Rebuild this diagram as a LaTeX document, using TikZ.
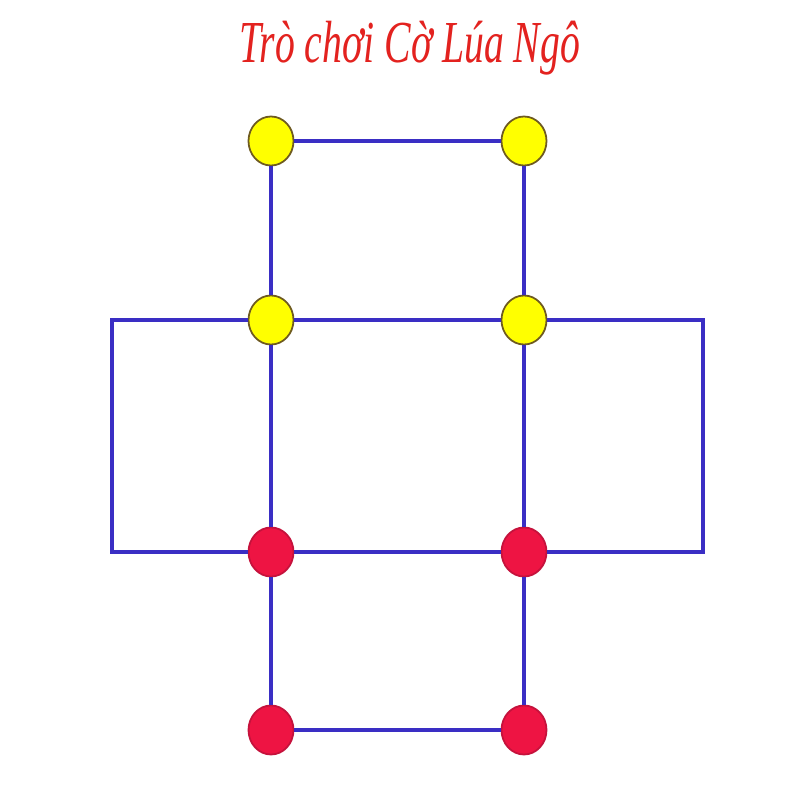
\documentclass[tikz,border=0pt]{standalone}
\usepackage{fontspec}
\usetikzlibrary{shapes.geometric}
\newfontfamily\titlefont{Liberation Serif}
\definecolor{lineblue}{HTML}{3A2EC4}
\definecolor{titlered}{HTML}{E3221F}
\definecolor{piecered}{HTML}{EE1443}
\definecolor{redrim}{HTML}{C5123C}
\definecolor{piecey}{HTML}{FFFF00}
\definecolor{yrim}{HTML}{6E5A20}
\begin{document}
\begin{tikzpicture}[x=0.01cm,y=-0.01cm,
  piece/.style={ellipse,minimum width=0.45cm,minimum height=0.49cm,inner sep=0pt,line width=0.5pt},
  ypiece/.style={piece,draw=yrim,fill=piecey},
  rpiece/.style={piece,draw=redrim,fill=piecered},
  board/.style={draw=lineblue,line width=1pt}]
\useasboundingbox[fill=white] (0,0) rectangle (800,800);
\node[text=titlered,inner sep=0pt] (title) at (410,48) {\scalebox{1}[1.5]{\resizebox{3.4cm}{!}{\titlefont\itshape Trò chơi Cờ Lúa Ngô}}};
\node[ypiece] (a1) at (271,141) {};
\node[ypiece] (b1) at (524,141) {};
\node[ypiece] (a2) at (271,320) {};
\node[ypiece] (b2) at (524,320) {};
\node[rpiece] (a3) at (271,552) {};
\node[rpiece] (b3) at (524,552) {};
\node[rpiece] (a4) at (271,730) {};
\node[rpiece] (b4) at (524,730) {};
\coordinate (lt) at (112,320);
\coordinate (lb) at (112,552);
\coordinate (rt) at (703,320);
\coordinate (rb) at (703,552);
\draw[board] (a1) -- (b1);
\draw[board] (a1) -- (a2);
\draw[board] (b1) -- (b2);
\draw[board] (a2) -- (b2);
\draw[board] (a2) -- (a3);
\draw[board] (b2) -- (b3);
\draw[board] (a3) -- (b3);
\draw[board] (a3) -- (a4);
\draw[board] (b3) -- (b4);
\draw[board] (a4) -- (b4);
\draw[board] (a2) -- (lt) -- (lb) -- (a3);
\draw[board] (b2) -- (rt) -- (rb) -- (b3);
\end{tikzpicture}
\end{document}
